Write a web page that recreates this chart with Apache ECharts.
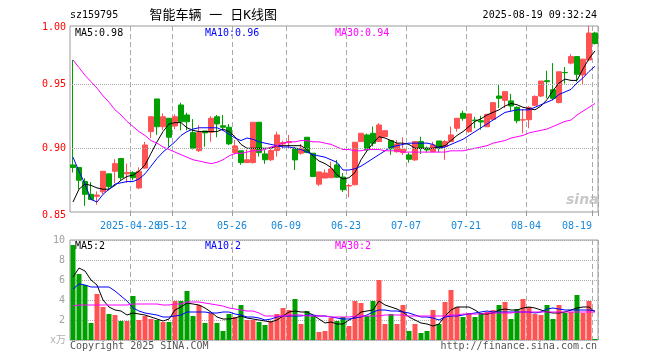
<!DOCTYPE html>
<html><head><meta charset="utf-8">
<script src="https://cdn.jsdelivr.net/npm/echarts@6/dist/echarts.min.js"></script>
<style>html,body{margin:0;padding:0;background:#fff}#c{width:660px;height:360px}</style>
</head><body><div id="c"></div>
<script>
const dates = [
'2025-04-14','2025-04-15','2025-04-16','2025-04-17','2025-04-18','2025-04-21','2025-04-22','2025-04-23','2025-04-24','2025-04-25',
'2025-04-28','2025-04-29','2025-04-30','2025-05-06','2025-05-07','2025-05-08','2025-05-09',
'2025-05-12','2025-05-13','2025-05-14','2025-05-15','2025-05-16','2025-05-19','2025-05-20','2025-05-21','2025-05-22','2025-05-23',
'2025-05-26','2025-05-27','2025-05-28','2025-05-29','2025-05-30','2025-06-03','2025-06-04','2025-06-05','2025-06-06',
'2025-06-09','2025-06-10','2025-06-11','2025-06-12','2025-06-13','2025-06-16','2025-06-17','2025-06-18','2025-06-19','2025-06-20',
'2025-06-23','2025-06-24','2025-06-25','2025-06-26','2025-06-27','2025-06-30','2025-07-01','2025-07-02','2025-07-03','2025-07-04',
'2025-07-07','2025-07-08','2025-07-09','2025-07-10','2025-07-11','2025-07-14','2025-07-15','2025-07-16','2025-07-17','2025-07-18',
'2025-07-21','2025-07-22','2025-07-23','2025-07-24','2025-07-25','2025-07-28','2025-07-29','2025-07-30','2025-07-31','2025-08-01',
'2025-08-04','2025-08-05','2025-08-06','2025-08-07','2025-08-08','2025-08-11','2025-08-12','2025-08-13','2025-08-14','2025-08-15',
'2025-08-18','2025-08-19'];
const openP = [0.887,0.885,0.874,0.864,0.8625,0.866,0.880,0.882,0.892,0.880,
0.881,0.869,0.8845,0.913,0.9385,0.9168,0.9234,0.9174,0.9338,0.926,
0.9122,0.8981,0.9135,0.9125,0.9246,0.9176,0.9164,0.8966,0.898,0.8888,
0.8888,0.9203,0.8956,0.891,0.8982,0.9034,0.9044,0.900,0.8961,0.9086,
0.8961,0.8719,0.8767,0.877,0.887,0.8775,0.8705,0.8715,0.9052,0.9104,
0.9117,0.9052,0.9091,0.906,0.8973,0.8966,0.8948,0.8909,0.9052,0.900,
0.8973,0.9057,0.9013,0.9052,0.9156,0.9273,0.913,0.922,0.9215,0.9168,
0.9226,0.9408,0.9374,0.937,0.932,0.922,0.9223,0.9335,0.9408,0.9528,
0.9457,0.9357,0.9592,0.9665,0.9716,0.9573,0.969,0.990];
const closeP = [0.885,0.875,0.864,0.860,0.8635,0.882,0.870,0.888,0.877,0.881,
0.877,0.882,0.9025,0.9246,0.9168,0.9246,0.9086,0.9246,0.9207,0.9207,
0.900,0.9122,0.912,0.9234,0.919,0.9164,0.9034,0.9018,0.8888,0.891,
0.9203,0.8966,0.891,0.8982,0.9104,0.9044,0.9052,0.8909,0.900,0.8966,
0.8779,0.8815,0.8807,0.8838,0.8774,0.8676,0.8709,0.9047,0.9117,0.8987,
0.9039,0.9182,0.9137,0.8995,0.9034,0.8992,0.8914,0.9052,0.900,0.8987,
0.9026,0.900,0.9052,0.9104,0.9234,0.9234,0.9268,0.9215,0.9205,0.9265,
0.9356,0.939,0.9442,0.933,0.9215,0.9223,0.9319,0.9405,0.9525,0.952,
0.939,0.9597,0.959,0.9716,0.9578,0.9696,0.990,0.9818];
const lowP = [0.881,0.868,0.855,0.8595,0.8559,0.864,0.867,0.8727,0.875,0.873,
0.875,0.868,0.884,0.908,0.9104,0.9143,0.9012,0.915,0.914,0.914,
0.899,0.897,0.9012,0.905,0.9086,0.914,0.9025,0.895,0.887,0.8885,
0.888,0.8935,0.8878,0.890,0.8935,0.900,0.900,0.883,0.895,0.8966,
0.8775,0.8704,0.8767,0.877,0.8768,0.866,0.8618,0.871,0.905,0.8985,
0.9015,0.905,0.909,0.8948,0.8966,0.8948,0.8888,0.890,0.8955,0.8966,
0.8973,0.8966,0.8909,0.9052,0.913,0.9215,0.912,0.9156,0.9145,0.9165,
0.922,0.9314,0.9314,0.929,0.9195,0.9117,0.9156,0.9335,0.940,0.939,
0.9375,0.935,0.9505,0.9655,0.952,0.950,0.968,0.981];
const highP = [0.969,0.885,0.8766,0.8736,0.8663,0.882,0.880,0.8914,0.892,0.888,
0.882,0.885,0.905,0.925,0.9385,0.9273,0.9234,0.9265,0.9356,0.9277,
0.9228,0.918,0.9135,0.925,0.926,0.926,0.919,0.9065,0.898,0.899,
0.9205,0.9203,0.8985,0.901,0.913,0.906,0.9104,0.901,0.9034,0.9086,
0.8961,0.8815,0.8835,0.8895,0.8909,0.8806,0.8722,0.9047,0.912,0.9115,
0.917,0.9196,0.914,0.906,0.9065,0.9086,0.8966,0.9052,0.909,0.9013,
0.905,0.9057,0.9065,0.917,0.9234,0.9293,0.9268,0.9246,0.9254,0.9265,
0.936,0.950,0.9445,0.9425,0.9327,0.9306,0.933,0.9413,0.9525,0.9606,
0.9665,0.9597,0.9635,0.9735,0.9716,0.970,0.9955,0.991];
const ma5 = [0.858,0.868,0.872,0.871,0.869,0.868,0.868,0.871,0.875,0.878,
0.879,0.882,0.887,0.896,0.905,0.913,0.919,0.920,0.920,0.916,
0.914,0.913,0.913,0.913,0.913,0.915,0.913,0.909,0.903,0.900,
0.900,0.900,0.900,0.900,0.902,0.902,0.902,0.902,0.902,0.899,
0.894,0.890,0.888,0.885,0.879,0.876,0.877,0.881,0.891,0.898,
0.904,0.909,0.908,0.906,0.904,0.904,0.903,0.900,0.900,0.900,
0.900,0.901,0.902,0.906,0.910,0.913,0.917,0.921,0.923,0.926,
0.928,0.930,0.933,0.935,0.934,0.932,0.931,0.930,0.933,0.938,
0.945,0.951,0.954,0.953,0.953,0.962,0.970,0.976];
const ma10 = [0.893,0.882,0.872,0.860,0.858,0.864,0.868,0.872,0.873,0.874,
0.874,0.876,0.880,0.886,0.892,0.897,0.901,0.905,0.910,0.913,
0.915,0.916,0.916,0.916,0.916,0.914,0.911,0.908,0.906,0.908,
0.907,0.905,0.904,0.903,0.902,0.901,0.901,0.900,0.899,0.897,
0.895,0.894,0.893,0.891,0.889,0.883,0.883,0.884,0.886,0.889,
0.892,0.895,0.898,0.901,0.902,0.903,0.904,0.904,0.904,0.904,
0.903,0.900,0.901,0.903,0.905,0.907,0.910,0.913,0.916,0.919,
0.922,0.925,0.928,0.929,0.930,0.930,0.930,0.932,0.934,0.936,
0.938,0.942,0.944,0.946,0.951,0.955,0.960,0.964];
const ma30 = [0.969,0.963,0.957,0.952,0.947,0.941,0.936,0.930,0.926,0.921,
0.917,0.913,0.910,0.906,0.904,0.901,0.899,0.897,0.895,0.893,
0.891,0.890,0.889,0.888,0.889,0.891,0.894,0.896,0.896,0.897,
0.898,0.898,0.899,0.901,0.902,0.904,0.905,0.905,0.906,0.906,
0.905,0.905,0.904,0.903,0.901,0.899,0.899,0.898,0.898,0.899,
0.899,0.899,0.898,0.898,0.898,0.897,0.897,0.897,0.897,0.897,
0.897,0.897,0.897,0.898,0.898,0.898,0.899,0.900,0.901,0.902,
0.904,0.905,0.906,0.908,0.909,0.910,0.912,0.913,0.914,0.915,
0.917,0.919,0.921,0.922,0.926,0.929,0.932,0.935];
const volume = [9.5,6.6,5.5,1.7,4.6,3.3,2.6,2.5,1.9,1.9,
4.4,2.0,2.4,2.1,2.0,1.8,1.8,3.9,3.9,4.9,
2.4,3.5,1.7,2.7,1.7,0.9,2.6,2.3,3.5,2.0,
2.0,1.8,1.5,1.9,2.6,3.2,3.0,4.1,1.6,2.9,
2.4,0.8,0.9,2.2,1.9,2.3,1.4,3.9,3.7,2.4,
3.9,6.0,1.6,2.6,1.6,3.5,0.9,1.6,0.7,0.9,
3.0,1.6,3.8,5.0,3.3,2.3,2.7,2.3,2.7,2.8,
3.0,3.5,3.8,2.1,3.1,4.1,3.3,2.6,2.5,3.5,
2.1,3.5,2.7,2.8,4.5,2.7,3.9,0.1];
const vma5 = [6.3,7.2,6.9,6.0,5.5,4.0,3.3,3.0,2.9,2.5,
2.7,2.6,2.5,2.3,2.1,1.9,2.1,3.0,3.3,3.7,
3.6,3.5,3.2,2.8,2.3,2.1,2.1,2.2,2.4,2.2,
2.1,2.0,1.9,1.8,2.0,2.4,2.8,2.9,2.8,2.8,
2.5,2.1,1.7,1.8,1.6,1.6,2.0,2.3,2.8,2.9,
3.0,3.9,3.5,3.3,3.1,2.8,2.3,2.0,1.7,1.6,
1.4,1.6,2.4,3.0,3.3,3.3,3.3,3.0,2.6,2.6,
2.7,3.0,3.1,3.0,3.0,3.2,3.3,3.2,3.0,2.8,
2.7,2.7,2.8,3.0,3.2,3.3,3.3,2.8];
const vma10 = [5.1,5.6,5.5,5.3,5.3,5.3,5.3,4.9,4.4,3.9,
3.2,2.9,2.7,2.6,2.5,2.3,2.3,2.4,2.5,2.8,
2.8,2.8,2.8,2.7,2.7,2.8,2.8,2.6,2.5,2.3,
2.3,2.2,2.0,2.1,2.3,2.4,2.4,2.4,2.4,2.5,
2.5,2.4,2.4,2.3,2.2,2.1,2.1,2.2,2.3,2.5,
2.8,3.0,3.0,2.9,2.9,2.8,2.7,2.5,2.3,2.3,
2.2,2.0,2.3,2.4,2.4,2.5,2.6,2.7,2.8,2.9,
2.8,2.8,2.8,2.8,2.8,2.8,2.8,2.7,2.8,3.1,
3.2,3.1,3.0,3.0,3.0,3.0,3.0,2.9];
const vma30 = [3.4,3.5,3.5,3.5,3.5,3.5,3.5,3.5,3.5,3.5,
3.6,3.6,3.6,3.6,3.6,3.5,3.5,3.6,3.6,3.8,
3.8,3.8,3.7,3.6,3.5,3.4,3.2,3.1,3.0,2.9,
2.9,2.7,2.4,2.4,2.4,2.4,2.5,2.5,2.5,2.4,
2.4,2.4,2.4,2.3,2.3,2.3,2.3,2.4,2.4,2.4,
2.4,2.4,2.5,2.5,2.5,2.5,2.4,2.4,2.4,2.4,
2.4,2.4,2.4,2.5,2.5,2.6,2.6,2.6,2.6,2.7,
2.7,2.7,2.7,2.7,2.8,2.8,2.8,2.8,2.8,2.8,
2.8,2.8,2.8,2.8,2.8,2.8,2.8,2.8];
const tickDates = ['2025-04-28','2025-05-12','2025-05-26','2025-06-09','2025-06-23','2025-07-07','2025-07-21','2025-08-04','2025-08-19'];
const tickLabels = ['2025-04-28','05-12','05-26','06-09','06-23','07-07','07-21','08-04','08-19'];
const priceMin = 0.8502, priceMax = 0.9955;
const priceGrid = [0.90, 0.95];
const volMax = 10, volStep = 2;

const MONO = '"DejaVu Sans Mono", monospace';
const UP = '#ff5252', DOWN = '#00a000';
const tickFn = (i) => tickDates.indexOf(dates[i]) >= 0;
const labelFn = (i) => tickDates.indexOf(dates[i]) > 0;
const firstLabelFn = (i) => dates[i] === tickDates[0];

const chart = echarts.init(document.getElementById('c'), null, {renderer: 'canvas'});
const candleData = dates.map((d, i) => [openP[i], closeP[i], lowP[i], highP[i]]);
const volData = volume.map((v, i) => ({value: v, itemStyle: {color: closeP[i] >= openP[i] ? UP : DOWN}}));
const lastIdx = dates.length - 1;

const txt = (text, x, y, fill, font, align) => ({
  type: 'text', x: x, y: y, silent: true,
  style: {text: text, fill: fill, font: font, textAlign: align || 'left', align: align || 'left', textVerticalAlign: 'middle', verticalAlign: 'middle'}
});
const labelFmt = function (v) {
  const k = tickDates.indexOf(v);
  if (k < 0) return '';
  if (k === tickDates.length - 1) return '{r|' + tickLabels[k] + '}';
  return tickLabels[k];
};

const option = {
  animation: false,
  backgroundColor: '#fff',
  grid: [
    {left: 70, right: 62, top: 26, height: 186, show: true, borderColor: '#9a9a9a', borderWidth: 1, backgroundColor: 'transparent'},
    {left: 70, right: 62, top: 240, height: 100, show: true, borderColor: '#9a9a9a', borderWidth: 1, backgroundColor: 'transparent'}
  ],
  xAxis: [
    {type: 'category', gridIndex: 0, data: dates, boundaryGap: true, position: 'bottom',
     axisLine: {show: false},
     axisTick: {show: true, interval: tickFn, length: 4, lineStyle: {color: '#9a9a9a'}},
     splitLine: {show: true, interval: tickFn, lineStyle: {color: '#aaaaaa', type: [5, 3], width: 1}},
     axisLabel: {show: true, interval: labelFn, showMinLabel: true, showMaxLabel: true, hideOverlap: false,
       margin: 9, color: '#1a88d8', fontFamily: MONO, fontSize: 10,
       padding: [0, 6, 0, 0], formatter: labelFmt,
       rich: {r: {color: '#1a88d8', fontFamily: MONO, fontSize: 10, padding: [0, 30, 0, 0]}}
     }},
    {type: 'category', gridIndex: 1, data: dates, boundaryGap: true,
     axisLine: {show: false}, axisTick: {show: false}, axisLabel: {show: false},
     splitLine: {show: true, interval: tickFn, lineStyle: {color: '#aaaaaa', type: [5, 3], width: 1}}},
    {type: 'category', gridIndex: 0, data: dates, boundaryGap: true, position: 'bottom', offset: 0,
     axisLine: {show: false}, axisTick: {show: false}, splitLine: {show: false},
     axisLabel: {show: true, interval: firstLabelFn, showMinLabel: true, margin: 9, color: '#1a88d8',
       fontFamily: MONO, fontSize: 10, padding: [0, 6, 0, 0], formatter: labelFmt}}
  ],
  yAxis: [
    {type: 'value', gridIndex: 0, min: priceMin, max: priceMax, scale: true,
     axisLine: {show: false}, axisTick: {show: false}, splitLine: {show: false},
     axisLabel: {show: true, customValues: [priceMin, priceGrid[0], priceGrid[1], priceMax], margin: 4,
       color: '#ff0000', fontFamily: MONO, fontSize: 10,
       formatter: function (v) {
         const s = v.toFixed(2);
         if (Math.abs(v - priceMin) < 1e-6) return '{b|' + s + '}';
         if (Math.abs(v - priceMax) < 1e-6) return '{t|' + s + '}';
         return s;
       },
       rich: {b: {color: '#ff0000', fontFamily: MONO, fontSize: 10, padding: [7, 0, 0, 0]},
              t: {color: '#ff0000', fontFamily: MONO, fontSize: 10, padding: [2, 0, 0, 0]}}
     }},
    {type: 'value', gridIndex: 1, min: 0, max: volMax, interval: volStep,
     axisLine: {show: false}, axisTick: {show: false},
     splitLine: {show: true, lineStyle: {color: '#aaaaaa', type: 'dotted', width: 1}},
     axisLabel: {show: true, margin: 5, color: '#a0a0a0', fontFamily: MONO, fontSize: 10,
       formatter: function (v) { return v === 0 ? '' : String(v); }}}
  ],
  series: [
    {type: 'candlestick', name: 'K', xAxisIndex: 0, yAxisIndex: 0, data: candleData, barWidth: 5, silent: true,
     itemStyle: {color: UP, color0: DOWN, borderColor: UP, borderColor0: DOWN, borderWidth: 1},
     markLine: {silent: true, symbol: ['none', 'none'], label: {show: false},
       lineStyle: {color: '#aaaaaa', type: 'dotted', width: 1},
       data: priceGrid.map(v => ({yAxis: v}))}},
    {type: 'line', name: 'MA5', xAxisIndex: 0, yAxisIndex: 0, data: ma5, showSymbol: false, silent: true,
     lineStyle: {color: '#000000', width: 1}, itemStyle: {color: '#000000'}},
    {type: 'line', name: 'MA10', xAxisIndex: 0, yAxisIndex: 0, data: ma10, showSymbol: false, silent: true,
     lineStyle: {color: '#0000ff', width: 1}, itemStyle: {color: '#0000ff'}},
    {type: 'line', name: 'MA30', xAxisIndex: 0, yAxisIndex: 0, data: ma30, showSymbol: false, silent: true,
     lineStyle: {color: '#ff00ff', width: 1}, itemStyle: {color: '#ff00ff'}},
    {type: 'bar', name: 'VOL', xAxisIndex: 1, yAxisIndex: 1, data: volData, barWidth: 5, silent: true},
    {type: 'line', name: 'VMA5', xAxisIndex: 1, yAxisIndex: 1, data: vma5, showSymbol: false, silent: true,
     lineStyle: {color: '#000000', width: 1}},
    {type: 'line', name: 'VMA10', xAxisIndex: 1, yAxisIndex: 1, data: vma10, showSymbol: false, silent: true,
     lineStyle: {color: '#0000ff', width: 1}},
    {type: 'line', name: 'VMA30', xAxisIndex: 1, yAxisIndex: 1, data: vma30, showSymbol: false, silent: true,
     lineStyle: {color: '#ff00ff', width: 1}}
  ],
  graphic: [
    txt('sz159795', 70, 15.5, '#000', '10px ' + MONO),
    txt('智能车辆 一 日K线图', 149.5, 15.5, '#000', '13px "DejaVu Sans Mono", "Noto Sans CJK SC"'),
    txt('2025-08-19 09:32:24', 597, 15.5, '#000', '10px ' + MONO, 'right'),
    txt('MA5:' + ma5[lastIdx].toFixed(2), 75, 33, '#000000', '10px ' + MONO),
    txt('MA10:' + ma10[lastIdx].toFixed(2), 205, 33, '#0000ff', '10px ' + MONO),
    txt('MA30:' + ma30[lastIdx].toFixed(2), 335, 33, '#ff00ff', '10px ' + MONO),
    txt('MA5:' + Math.floor(vma5[lastIdx]), 75, 246.5, '#000000', '10px ' + MONO),
    txt('MA10:' + Math.floor(vma10[lastIdx]), 205, 246.5, '#0000ff', '10px ' + MONO),
    txt('MA30:' + Math.floor(vma30[lastIdx]), 335, 246.5, '#ff00ff', '10px ' + MONO),
    txt('sina', 566, 200, '#c8c8c8', 'italic bold 14px "DejaVu Sans"'),
    txt('x万', 50, 340, '#b0b0b0', '10px "DejaVu Sans Mono", "Noto Sans CJK SC"'),
    txt('Copyright 2025 SINA.COM', 70, 346, '#555555', '10px ' + MONO),
    txt('http://finance.sina.com.cn', 597, 346, '#555555', '10px ' + MONO, 'right')
  ]
};
chart.setOption(option);
</script>
</body></html>
